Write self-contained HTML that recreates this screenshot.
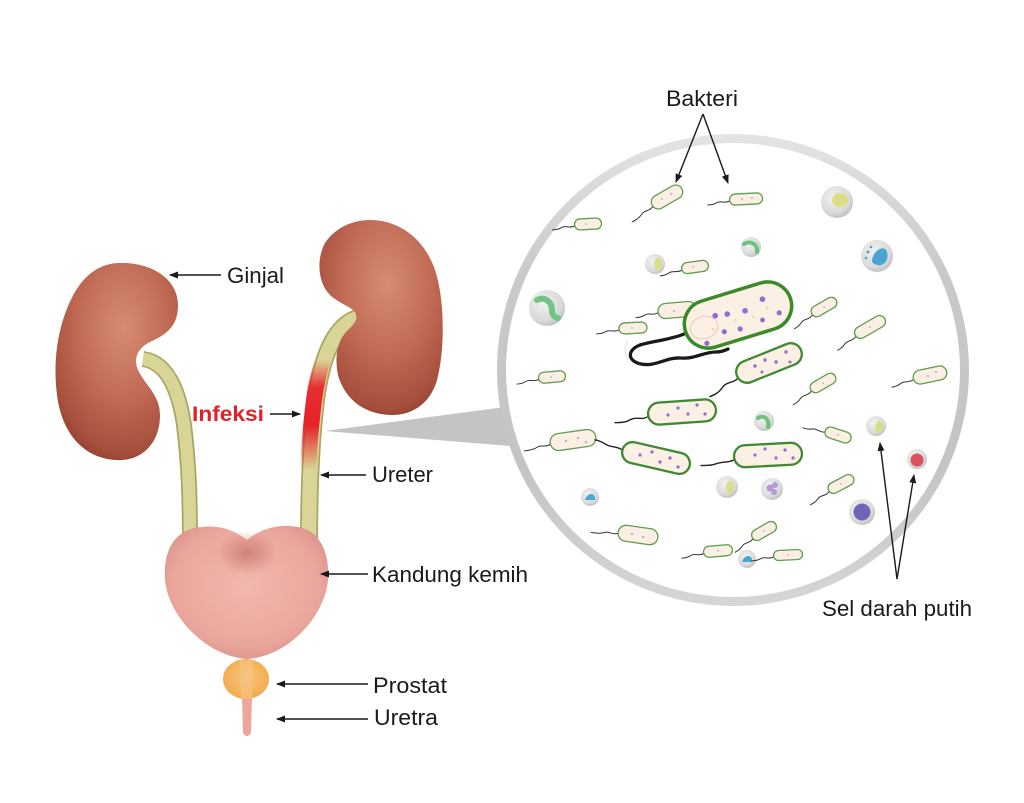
<!DOCTYPE html>
<html><head><meta charset="utf-8">
<style>html,body{margin:0;padding:0;background:#fff}svg{display:block}</style>
</head><body>
<svg width="1024" height="803" viewBox="0 0 1024 803" xmlns="http://www.w3.org/2000/svg">
<defs>
 <radialGradient id="kid" cx="0.55" cy="0.33" r="0.75">
  <stop offset="0" stop-color="#d68c74"/><stop offset="0.5" stop-color="#c06a54"/><stop offset="0.85" stop-color="#a44e3c"/><stop offset="1" stop-color="#8a3a2c"/>
 </radialGradient>
 <radialGradient id="blad" cx="0.5" cy="0.45" r="0.6">
  <stop offset="0" stop-color="#f2b8ae"/><stop offset="0.75" stop-color="#eaa69c"/><stop offset="1" stop-color="#dc9088"/>
 </radialGradient>
 <radialGradient id="dip" cx="0.5" cy="0.5" r="0.5">
  <stop offset="0" stop-color="#c9716d" stop-opacity="0.75"/><stop offset="1" stop-color="#c9716d" stop-opacity="0"/>
 </radialGradient>
 <radialGradient id="pros" cx="0.5" cy="0.45" r="0.6">
  <stop offset="0" stop-color="#f9c677"/><stop offset="1" stop-color="#f0a84c"/>
 </radialGradient>
 <linearGradient id="inf" gradientUnits="userSpaceOnUse" x1="0" y1="360" x2="0" y2="470">
  <stop offset="0" stop-color="#e8252a" stop-opacity="0"/>
  <stop offset="0.25" stop-color="#e8252a" stop-opacity="0.95"/>
  <stop offset="0.6" stop-color="#e4232a" stop-opacity="1"/>
  <stop offset="1" stop-color="#e8252a" stop-opacity="0"/>
 </linearGradient>
 <linearGradient id="ring" gradientUnits="userSpaceOnUse" x1="0" y1="134" x2="0" y2="606">
  <stop offset="0" stop-color="#e4e4e4"/><stop offset="0.3" stop-color="#c9c9c9"/><stop offset="0.7" stop-color="#c4c4c4"/><stop offset="1" stop-color="#d6d6d6"/>
 </linearGradient>
 <radialGradient id="cell" cx="0.4" cy="0.35" r="0.7">
  <stop offset="0" stop-color="#f2f2f2"/><stop offset="0.7" stop-color="#dadada"/><stop offset="1" stop-color="#bdbdbd"/>
 </radialGradient>
 <marker id="ah" markerUnits="userSpaceOnUse" markerWidth="9" markerHeight="7" refX="8" refY="3.5" orient="auto">
  <path d="M0,0 L9,3.5 L0,7 z" fill="#1a1a1a"/>
 </marker>
</defs>

<!-- Ureters -->
<path d="M143,359 C165,362 178,385 184,425 C189,465 190,500 190,545" fill="none" stroke="#aaa564" stroke-width="16"/>
<path d="M143,359 C165,362 178,385 184,425 C189,465 190,500 190,545" fill="none" stroke="#d9d596" stroke-width="12.5"/>
<path d="M358,318 C335,325 322,355 316,400 C311,440 309,490 309,545" fill="none" stroke="#aaa564" stroke-width="18"/>
<path d="M358,318 C335,325 322,355 316,400 C311,440 309,490 309,545" fill="none" stroke="#d9d596" stroke-width="14.5"/>
<path d="M355,319 C333,326 320,356 314,400 C309,440 308,470 308,480" fill="none" stroke="url(#inf)" stroke-width="16"/>

<!-- Kidneys -->
<path d="M120,263 C150,262 178,278 178,305 C178,325 168,334 150,342 C138,348 133,358 138,370 C145,385 160,395 160,415 C160,445 140,462 115,460 C85,458 62,435 57,395 C52,355 60,318 75,292 C85,275 100,263 120,263 Z" fill="url(#kid)"/>
<path d="M370,220 C400,220 425,240 435,270 C445,300 445,350 437,380 C430,405 410,416 390,415 C365,414 345,400 338,375 C334,355 338,338 350,328 C356,322 358,318 355,312 C350,306 340,304 330,295 C318,283 316,260 325,243 C335,228 352,220 370,220 Z" fill="url(#kid)"/>

<!-- Bladder -->
<path d="M247,540 C232,528 215,524 195,528 C175,532 163,550 165,580 C168,615 205,656 247,659 C290,656 325,615 328,580 C330,550 318,530 298,527 C278,524 262,528 247,540 Z" fill="url(#blad)"/>
<ellipse cx="247" cy="553" rx="30" ry="22" fill="url(#dip)"/>

<!-- Urethra & prostate -->
<path d="M242,695 L252,695 L251,733 Q247,739 243,733 Z" fill="#eea59c"/>
<ellipse cx="246" cy="679" rx="23" ry="20" fill="url(#pros)"/>
<path d="M240,660 L253,660 L252,699 L241,699 Z" fill="#f7c285" opacity="0.7"/>

<!-- Connector triangle + circle -->
<polygon points="325,431 505,407 510,446" fill="#c4c4c4"/>
<circle cx="733" cy="370" r="231.5" fill="#fff" stroke="url(#ring)" stroke-width="9"/>

<!-- Cells -->
<g>
 <circle cx="837" cy="202" r="16" fill="url(#cell)"/><ellipse cx="840" cy="200" rx="8" ry="7" fill="#d8df86"/>
 <circle cx="877" cy="256" r="16" fill="url(#cell)"/><path d="M872,262 C872,250 885,244 887,252 C890,262 880,270 872,262 Z" fill="#4aa6d0"/><circle cx="868" cy="252" r="1.5" fill="#4aa6d0"/><circle cx="871" cy="247" r="1.3" fill="#4aa6d0"/><circle cx="866" cy="258" r="1.3" fill="#4aa6d0"/>
 <circle cx="751" cy="247" r="10" fill="url(#cell)"/><path d="M744,244 C750,240 758,244 757,252" fill="none" stroke="#6cc080" stroke-width="4" stroke-linecap="round"/>
 <circle cx="655" cy="264" r="10" fill="url(#cell)"/><ellipse cx="658" cy="264" rx="4" ry="6" fill="#d8df86"/>
 <circle cx="547" cy="308" r="18" fill="url(#cell)"/><path d="M537,300 C545,296 552,302 552,310 C552,316 556,318 558,318" fill="none" stroke="#72c485" stroke-width="6" stroke-linecap="round"/>
 <circle cx="764" cy="421" r="10" fill="url(#cell)"/><path d="M758,418 C764,414 770,420 768,427" fill="none" stroke="#6cc080" stroke-width="4" stroke-linecap="round"/>
 <circle cx="876" cy="426" r="10" fill="url(#cell)"/><ellipse cx="879" cy="427" rx="4" ry="6" fill="#d8df86"/>
 <circle cx="917" cy="459" r="10" fill="url(#cell)"/><circle cx="917" cy="460" r="6.5" fill="#e0505c"/>
 <circle cx="727" cy="487" r="11" fill="url(#cell)"/><ellipse cx="730" cy="487" rx="4" ry="6" fill="#d8df86"/>
 <circle cx="772" cy="489" r="11" fill="url(#cell)"/><circle cx="770" cy="488" r="3.5" fill="#b69bd3"/><circle cx="775" cy="485" r="3" fill="#b69bd3"/><circle cx="774" cy="492" r="3" fill="#b69bd3"/>
 <circle cx="590" cy="497" r="9" fill="url(#cell)"/><path d="M585,500 C587,492 596,492 595,500 Z" fill="#4aa6d0"/>
 <circle cx="862" cy="512" r="13" fill="url(#cell)"/><circle cx="862" cy="512" r="8.5" fill="#6e66b8"/>
 <circle cx="747" cy="559" r="9" fill="url(#cell)"/><path d="M742,562 C744,554 753,554 752,562 Z" fill="#4aa6d0"/>
</g>

<!-- Small bacteria -->
<g fill="#fbefe3" stroke="#5f9e50" stroke-width="1.3">
 <g transform="translate(667,197) rotate(-30)"><path d="M-17,1 c-5,3 -9,-1 -13,1 s-8,3 -13,2" fill="none" stroke="#333" stroke-width="1"/><rect x="-17" y="-7" width="34" height="14" rx="7"/></g>
 <g transform="translate(746,199) rotate(-3)"><path d="M-16,1 c-5,3 -9,-1 -13,1 s-6,2 -10,2" fill="none" stroke="#333" stroke-width="1"/><rect x="-16.5" y="-5.5" width="33" height="11" rx="5.5"/></g>
 <g transform="translate(588,224) rotate(-3)"><path d="M-13,1 c-5,3 -9,-1 -13,1 s-6,2 -10,2" fill="none" stroke="#333" stroke-width="1"/><rect x="-13.5" y="-5.5" width="27" height="11" rx="5.5"/></g>
 <g transform="translate(695,267) rotate(-8)"><path d="M-13,1 c-5,3 -9,-1 -13,1 s-6,2 -10,2" fill="none" stroke="#333" stroke-width="1"/><rect x="-13.5" y="-5.5" width="27" height="11" rx="5.5"/></g>
 <g transform="translate(677,310) rotate(-5)"><path d="M-19,1 c-5,3 -9,-1 -13,1 s-6,2 -10,2" fill="none" stroke="#333" stroke-width="1"/><rect x="-19" y="-7.5" width="38" height="15" rx="7.5"/></g>
 <g transform="translate(633,328) rotate(-3)"><path d="M-14,1 c-5,3 -9,-1 -13,1 s-6,2 -10,2" fill="none" stroke="#333" stroke-width="1"/><rect x="-14" y="-5.5" width="28" height="11" rx="5.5"/></g>
 <g transform="translate(552,377) rotate(-5)"><path d="M-13,1 c-5,3 -9,-1 -13,1 s-6,2 -10,2" fill="none" stroke="#333" stroke-width="1"/><rect x="-13.5" y="-5.5" width="27" height="11" rx="5.5"/></g>
 <g transform="translate(824,307) rotate(-30)"><path d="M-14,1 c-5,3 -9,-1 -13,1 s-6,2 -10,2" fill="none" stroke="#333" stroke-width="1"/><rect x="-14" y="-5.5" width="28" height="11" rx="5.5"/></g>
 <g transform="translate(870,327) rotate(-30)"><path d="M-17,1 c-5,3 -9,-1 -13,1 s-6,2 -10,2" fill="none" stroke="#333" stroke-width="1"/><rect x="-17" y="-6" width="34" height="12" rx="6"/></g>
 <g transform="translate(823,383) rotate(-30)"><path d="M-14,1 c-5,3 -9,-1 -13,1 s-6,2 -10,2" fill="none" stroke="#333" stroke-width="1"/><rect x="-14" y="-5.5" width="28" height="11" rx="5.5"/></g>
 <g transform="translate(930,375) rotate(-12)"><path d="M-17,1 c-5,3 -9,-1 -13,1 s-6,2 -10,2" fill="none" stroke="#333" stroke-width="1"/><rect x="-17" y="-7" width="34" height="14" rx="7"/></g>
 <g transform="translate(838,435) rotate(18)"><path d="M-13,1 c-5,3 -9,-1 -13,1 s-6,2 -10,2" fill="none" stroke="#333" stroke-width="1"/><rect x="-13.5" y="-5.5" width="27" height="11" rx="5.5"/></g>
 <g transform="translate(841,484) rotate(-28)"><path d="M-14,1 c-5,3 -9,-1 -13,1 s-6,2 -10,2" fill="none" stroke="#333" stroke-width="1"/><rect x="-14" y="-5.5" width="28" height="11" rx="5.5"/></g>
 <g transform="translate(638,535) rotate(8)"><path d="M-20,1 c-5,3 -9,-1 -13,1 s-8,2 -14,2" fill="none" stroke="#333" stroke-width="1"/><rect x="-20" y="-8" width="40" height="16" rx="8"/></g>
 <g transform="translate(764,531) rotate(-30)"><path d="M-13,1 c-5,3 -9,-1 -13,1 s-6,2 -10,2" fill="none" stroke="#333" stroke-width="1"/><rect x="-13.5" y="-5.5" width="27" height="11" rx="5.5"/></g>
 <g transform="translate(718,551) rotate(-5)"><path d="M-14,1 c-5,3 -9,-1 -13,1 s-6,2 -10,2" fill="none" stroke="#333" stroke-width="1"/><rect x="-14.5" y="-5.5" width="29" height="11" rx="5.5"/></g>
 <g transform="translate(788,555) rotate(-3)"><path d="M-14,1 c-5,3 -9,-1 -13,1 s-6,2 -10,2" fill="none" stroke="#333" stroke-width="1"/><rect x="-14.5" y="-5" width="29" height="10" rx="5"/></g>
 <g transform="translate(573,440) rotate(-8)"><path d="M-23,1 c-5,3 -9,-1 -13,1 s-8,2 -14,2" fill="none" stroke="#333" stroke-width="1"/><rect x="-23" y="-8.5" width="46" height="17" rx="8.5"/></g>
</g>
<!-- small dots -->
<g fill="#a98fd4">
 <circle cx="662" cy="199" r="0.9"/><circle cx="671" cy="194" r="0.9"/><circle cx="742" cy="199" r="0.9"/><circle cx="752" cy="198" r="0.9"/>
 <circle cx="586" cy="224" r="0.8"/><circle cx="693" cy="267" r="0.8"/><circle cx="674" cy="311" r="0.9"/><circle cx="632" cy="328" r="0.8"/>
 <circle cx="551" cy="377" r="0.8"/><circle cx="824" cy="307" r="0.8"/><circle cx="870" cy="327" r="0.8"/><circle cx="823" cy="383" r="0.8"/>
 <circle cx="928" cy="376" r="0.9"/><circle cx="936" cy="372" r="0.9"/><circle cx="838" cy="435" r="0.8"/><circle cx="841" cy="484" r="0.8"/>
 <circle cx="632" cy="534" r="1"/><circle cx="643" cy="537" r="1"/><circle cx="764" cy="531" r="0.8"/><circle cx="718" cy="551" r="0.8"/>
 <circle cx="788" cy="555" r="0.8"/><circle cx="566" cy="441" r="1"/><circle cx="578" cy="438" r="1"/><circle cx="586" cy="442" r="1"/>
</g>

<!-- Medium bacteria -->
<g fill="#fcefe4" stroke="#3f8a30" stroke-width="2.3">
 <g transform="translate(769,363) rotate(-22)"><path d="M-34,2 c-6,4 -12,-1 -18,3 s-10,4 -16,4" fill="none" stroke="#222" stroke-width="1.4"/><rect x="-34.5" y="-11" width="69" height="22" rx="11"/></g>
 <g transform="translate(682,412) rotate(-4)"><path d="M-34,2 c-6,4 -12,-1 -18,2 s-10,2 -16,2" fill="none" stroke="#222" stroke-width="1.4"/><rect x="-34" y="-11" width="68" height="22" rx="11"/></g>
 <g transform="translate(656,458) rotate(13)"><path d="M-34,0 c-6,-3 -12,0 -18,-2 s-8,-2 -12,-2" fill="none" stroke="#222" stroke-width="1.4"/><rect x="-34.5" y="-10.5" width="69" height="21" rx="10.5"/></g>
 <g transform="translate(768,455) rotate(-3)"><path d="M-34,3 c-6,3 -12,1 -18,3 s-10,1 -16,1" fill="none" stroke="#222" stroke-width="1.4"/><rect x="-34" y="-11" width="68" height="22" rx="11"/></g>
</g>
<g fill="#8e6fd0">
 <circle cx="755" cy="366" r="1.7"/><circle cx="765" cy="360" r="1.7"/><circle cx="776" cy="362" r="1.7"/><circle cx="786" cy="352" r="1.7"/><circle cx="762" cy="372" r="1.5"/><circle cx="790" cy="362" r="1.5"/>
 <circle cx="668" cy="415" r="1.6"/><circle cx="678" cy="408" r="1.6"/><circle cx="688" cy="414" r="1.6"/><circle cx="697" cy="405" r="1.6"/><circle cx="705" cy="414" r="1.6"/>
 <circle cx="640" cy="455" r="1.6"/><circle cx="652" cy="452" r="1.6"/><circle cx="660" cy="462" r="1.6"/><circle cx="670" cy="458" r="1.6"/><circle cx="678" cy="467" r="1.6"/>
 <circle cx="755" cy="455" r="1.6"/><circle cx="765" cy="449" r="1.6"/><circle cx="776" cy="458" r="1.6"/><circle cx="785" cy="450" r="1.6"/><circle cx="793" cy="458" r="1.6"/>
</g>

<!-- Big bacterium -->
<path d="M684,334 C670,340 652,341 640,345 C627,350 627,361 641,364 C656,367 666,357 681,358 C696,359 703,352 716,352 C722,352 726,350 728,349" fill="none" stroke="#1a1a1a" stroke-width="3.3" stroke-linecap="round"/>
<path d="M628,340 Q622,350 628,360" fill="none" stroke="#ddd" stroke-width="1"/>
<g transform="translate(738,315) rotate(-17)">
 <rect x="-55" y="-24" width="110" height="48" rx="24" fill="#fcefe4" stroke="#3a8a2a" stroke-width="3.5"/>
 <ellipse cx="-36" cy="2" rx="14" ry="11" fill="none" stroke="#e6c9b8" stroke-width="1"/>
 <g fill="#8e6fd0"><circle cx="-22" cy="-6" r="2.8"/><circle cx="-10" cy="-4" r="2.8"/><circle cx="8" cy="-2" r="2.8"/><circle cx="28" cy="-8" r="2.8"/><circle cx="40" cy="10" r="2.6"/><circle cx="-18" cy="12" r="2.6"/><circle cx="-2" cy="14" r="2.6"/><circle cx="-38" cy="18" r="2.6"/><circle cx="22" cy="12" r="2.4"/></g>
 <g fill="#f0d98a"><circle cx="-4" cy="4" r="1.2"/><circle cx="14" cy="6" r="1.2"/><circle cx="30" cy="2" r="1.2"/><circle cx="-28" cy="6" r="1.2"/></g>
</g>

<!-- Arrows -->
<g stroke="#1a1a1a" stroke-width="1.4" fill="none" marker-end="url(#ah)">
 <line x1="221" y1="275" x2="170" y2="275"/>
 <line x1="270" y1="414" x2="300" y2="414"/>
 <line x1="366" y1="475" x2="321" y2="475"/>
 <line x1="368" y1="574" x2="321" y2="574"/>
 <line x1="368" y1="684" x2="277" y2="684"/>
 <line x1="368" y1="719" x2="277" y2="719"/>
 <line x1="703" y1="114" x2="676" y2="182"/>
 <line x1="703" y1="114" x2="728" y2="183"/>
 <line x1="897" y1="579" x2="880" y2="443"/>
 <line x1="897" y1="579" x2="914" y2="475"/>
</g>

<!-- Labels -->
<g font-family="'Liberation Sans', sans-serif" font-size="22" fill="#1a1a1a">
 <text x="227" y="283" textLength="57" lengthAdjust="spacingAndGlyphs">Ginjal</text>
 <text x="372" y="482" textLength="61" lengthAdjust="spacingAndGlyphs">Ureter</text>
 <text x="372" y="582" textLength="156" lengthAdjust="spacingAndGlyphs">Kandung kemih</text>
 <text x="373" y="693" textLength="74" lengthAdjust="spacingAndGlyphs">Prostat</text>
 <text x="374" y="725" textLength="64" lengthAdjust="spacingAndGlyphs">Uretra</text>
 <text x="666" y="106" textLength="72" lengthAdjust="spacingAndGlyphs">Bakteri</text>
 <text x="822" y="616" textLength="150" lengthAdjust="spacingAndGlyphs">Sel darah putih</text>
 <text x="192" y="421" font-weight="bold" font-size="21" fill="#e3202a" textLength="72" lengthAdjust="spacingAndGlyphs">Infeksi</text>
</g>
</svg>
</body></html>
